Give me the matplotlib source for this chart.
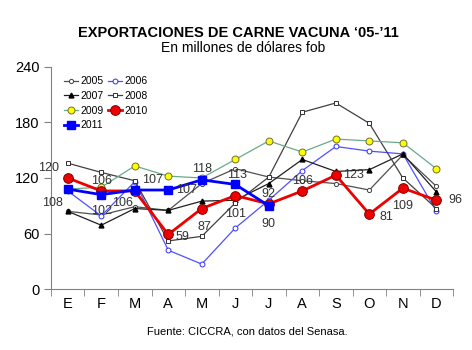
import numpy as np
import matplotlib
matplotlib.use("Agg")
import matplotlib.pyplot as plt

plt.rcParams['font.family'] = ['Liberation Sans', 'DejaVu Sans']

meses = ['E', 'F', 'M', 'A', 'M', 'J', 'J', 'A', 'S', 'O', 'N', 'D']

s2005 = [84, 80, 89, 85, 114, 130, 121, 117, 114, 107, 145, 111]
s2006 = [106, 79, 116, 42, 27, 66, 96, 128, 154, 149, 146, 84]
s2007 = [84, 69, 87, 85, 95, 96, 114, 140, 127, 129, 146, 105]
s2008 = [136, 126, 117, 52, 57, 93, 121, 191, 201, 179, 120, 87]
s2009 = [108, 110, 133, 122, 120, 140, 160, 148, 162, 160, 158, 130]
s2010 = [120, 106, 106, 59, 87, 101, 92, 106, 123, 81, 109, 96]
s2011 = [108, 102, 107, 107, 118, 113, 90]

# label offsets (points) for the 2010 / 2011 values
off2010 = [(-14, 7), (0, 7), (-9, -9), (10, -2), (2, -13), (0, -13), (0, 7), (0, 7), (13, 0), (12, -2), (0, -13), (14, 0)]
off2011 = [(-11, -10), (0, -12), (13, 7), (13, 0), (0, 8), (1, 7), (0, -13)]

fig = plt.figure(figsize=(4.72, 3.5), dpi=100)
ax = fig.add_axes([0.108, 0.174, 0.852, 0.635])
x = np.arange(12)

ax.plot(x, s2005, color='#505050', lw=0.9, marker='o', ms=3, mfc='white', mec='#404040', mew=0.7, label='2005')
ax.plot(x, s2006, color='#5050ff', lw=0.9, marker='o', ms=3.5, mfc='white', mec='#3030ff', mew=0.7, label='2006')
ax.plot(x, s2007, color='#202020', lw=0.9, marker='^', ms=3.5, mfc='black', mec='black', label='2007')
ax.plot(x, s2008, color='#404040', lw=0.9, marker='s', ms=3.5, mfc='white', mec='#303030', mew=0.7, label='2008')
ax.plot(x, s2009, color='#6aaa8a', lw=0.9, marker='o', ms=5, mfc='#ffff00', mec='#707030', mew=0.7, label='2009')
ax.plot(x, s2010, color='#ee0000', lw=2.0, marker='o', ms=7, mfc='#ee0000', mec='#800000', mew=0.7, label='2010', zorder=5)
ax.plot(x[:len(s2011)], s2011, color='#0000ff', lw=2.0, marker='s', ms=6, mfc='#0000ff', mec='#0000ff', label='2011', zorder=6)

for i, v in enumerate(s2010):
    ax.annotate(str(v), (i, v), xytext=off2010[i], textcoords='offset points',
                ha='center', va='center', fontsize=9, color='#333333', zorder=7)
for i, v in enumerate(s2011):
    ax.annotate(str(v), (i, v), xytext=off2011[i], textcoords='offset points',
                ha='center', va='center', fontsize=9, color='#333333', zorder=7)

ax.set_xlim(-0.5, 11.5)
ax.set_ylim(0, 240)
ax.set_yticks([0, 60, 120, 180, 240])
ax.set_xticks(x)
ax.set_xticklabels(meses)
ax.set_xticks(np.arange(-0.5, 12, 1), minor=True)
ax.tick_params(axis='x', which='major', length=0, labelsize=10.5, pad=6)
ax.tick_params(axis='x', which='minor', length=5, color='#808080')
ax.tick_params(axis='y', length=5, labelsize=10.5, color='#808080', pad=3)
for sp in ['top', 'right']:
    ax.spines[sp].set_visible(False)
for sp in ['left', 'bottom']:
    ax.spines[sp].set_color('#808080')

h, l = ax.get_legend_handles_labels()
order = [0, 2, 4, 6, 1, 3, 5]
leg = ax.legend([h[k] for k in order], [l[k] for k in order], ncol=2, loc='upper left',
                bbox_to_anchor=(0.01, 1.0), frameon=False, fontsize=7.5,
                handlelength=1.3, handletextpad=0.2, columnspacing=0.5, labelspacing=0.45)

fig.text(0.505, 0.905, "EXPORTACIONES DE CARNE VACUNA \u201805-\u201911", ha='center', va='center',
         fontsize=10.5, fontweight='bold')
fig.text(0.515, 0.862, "En millones de d\u00f3lares fob", ha='center', va='center', fontsize=10)
fig.text(0.523, 0.054, "Fuente: CICCRA, con datos del Senasa.", ha='center', va='center', fontsize=8)

fig.savefig('out.png', dpi=100)
